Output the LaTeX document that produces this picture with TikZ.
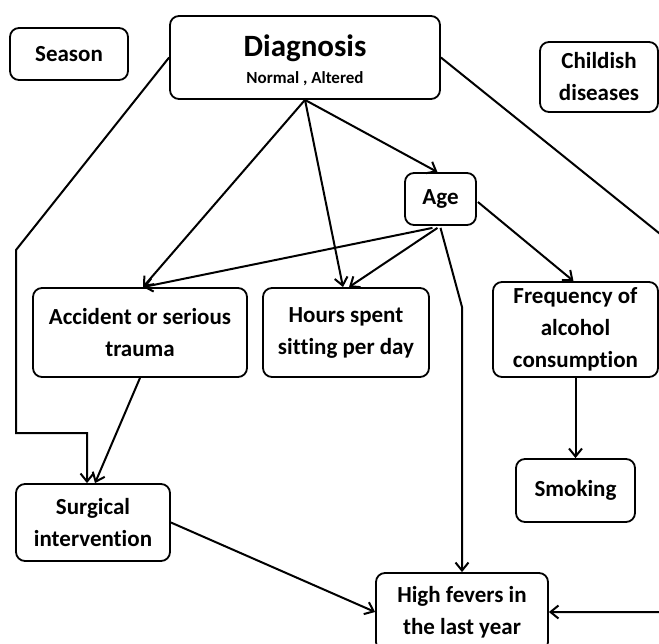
\documentclass[tikz,border=0pt]{standalone}
\usepackage{fontspec}
\setmainfont{Carlito}[Ligatures={NoCommon}]
\usetikzlibrary{arrows.meta,calc}
\tikzset{
  box/.style={draw=black, line width=1.8pt, rounded corners=9pt, fill=white,
    inner sep=0pt, align=center, font=\bfseries\fontsize{23}{32}\selectfont},
  arr/.style={draw=black, line width=2pt, -{Straight Barb[length=8pt,width=13pt]}},
}
\begin{document}
\begin{tikzpicture}[x=1pt,y=-1pt]
\useasboundingbox (0,0) rectangle (659,644);
\clip (0,0) rectangle (659,644);
\fill[white] (0,0) rectangle (659,644);
% nodes
\node[box, minimum width=118pt, minimum height=52pt] (season) at (69,54) {Season};
\node[box, minimum width=270pt, minimum height=83pt] (diag) at (305,57.5) {};
\node[font=\bfseries\fontsize{31}{31}\selectfont, anchor=base, inner sep=0pt] (diagT) at (305,57) {Diagnosis};
\node[font=\bfseries\fontsize{17}{17}\selectfont, anchor=base, inner sep=0pt] (diagS) at (305,84) {Normal , Altered};
\node[box, minimum width=118pt, minimum height=70pt] (child) at (599,77) {Childish\\diseases};
\node[box, minimum width=71pt, minimum height=52pt] (age) at (440.5,199) {Age};
\node[box, minimum width=214pt, minimum height=89pt] (acc) at (140,332.5) {Accident or serious\\trauma};
\node[box, minimum width=166pt, minimum height=89pt] (hours) at (346,332.5) {Hours spent\\sitting per day};
\node[box, minimum width=165pt, minimum height=95pt] (freq) at (575.5,329.5) {Frequency of\\alcohol\\consumption};
\node[box, minimum width=119pt, minimum height=63pt] (smoke) at (575.5,490.5) {Smoking};
\node[box, minimum width=154pt, minimum height=77pt] (surg) at (93,522.5) {Surgical\\intervention};
\node[box, minimum width=172pt, minimum height=78pt] (fev) at (462,612) {High fevers in\\the last year};
% helper coordinates
\coordinate (lb1) at (16,250);
\coordinate (lb2) at (16,433);
\coordinate (ab1) at (462,307);
\coordinate (rb1) at (690,258);
\coordinate (rb2) at (690,612);
% connectors
\draw[arr] (diag.south) -- ($(acc.north)+(3,0)$);
\draw[arr] (diag.south) -- ($(hours.north)+(-3,0)$);
\draw[arr] (diag.south) -- ($(age.north)+(-3,0)$);
\draw[arr] ($(age.south)+(-8,2)$) -- ($(acc.north)+(3,0)$);
\draw[arr] ($(age.south)+(-3,2)$) -- ($(hours.north)+(3,0)$);
\draw[arr] ($(age.south)+(0,2)$) -- (ab1) -- (fev.north);
\draw[arr] ($(age.east)+(1,3)$) -- ($(freq.north)+(-2,0)$);
\draw[arr] (freq.south) -- (smoke.north);
\draw[arr] (diag.west) -- (lb1) -- (lb2) -| ($(surg.north)+(-6,0)$);
\draw[arr] (acc.south) -- ($(surg.north)+(2,0)$);
\draw[arr] (surg.east) -- (fev.west);
\draw[arr] (diag.east) -- (rb1) -- (rb2) -- (fev.east);
\end{tikzpicture}
\end{document}
